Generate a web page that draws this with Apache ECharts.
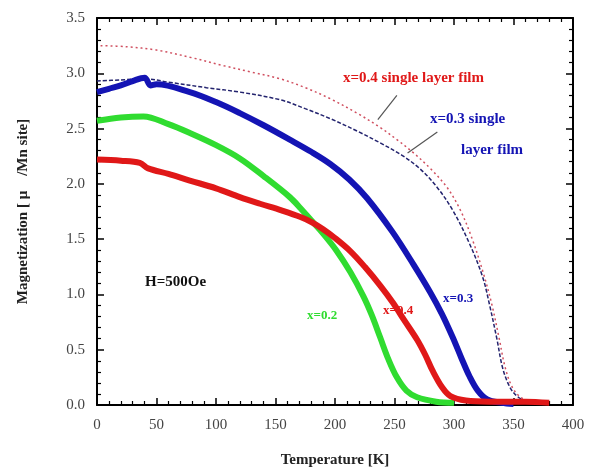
<!DOCTYPE html>
<html>
<head>
<meta charset="utf-8">
<script src="https://cdn.jsdelivr.net/npm/echarts@6/dist/echarts.min.js"></script>
<style>
  html, body { margin: 0; padding: 0; background: #fff; }
  #chart { width: 590px; height: 473px; }
</style>
</head>
<body>
<div id="chart"></div>
<script>
// --- Datos (T en K, M en μB/Mn) ---
const x02 = [[0,2.57],[20,2.60],[39,2.61],[60,2.54],[78,2.46],[100,2.35],[120,2.23],[140,2.07],[162,1.88],[171,1.78],[180,1.67],[190,1.55],[201,1.40],[213,1.20],[224,0.98],[231,0.81],[238,0.61],[245,0.41],[252,0.25],[260,0.13],[269,0.07],[285,0.03],[300,0.02]];
const x03 = [[0,2.83],[10,2.86],[20,2.89],[30,2.93],[40,2.96],[45,2.89],[50,2.90],[78,2.83],[100,2.74],[120,2.64],[140,2.53],[162,2.40],[180,2.29],[196,2.18],[212,2.04],[227,1.87],[248,1.57],[266,1.27],[280,1.02],[290,0.82],[299,0.61],[306,0.43],[313,0.26],[320,0.13],[328,0.05],[340,0.02],[350,0.01]];
const x04 = [[0,2.22],[20,2.21],[36,2.19],[43,2.14],[60,2.09],[78,2.03],[100,1.96],[120,1.88],[137,1.82],[155,1.76],[171,1.70],[181,1.65],[190,1.59],[200,1.51],[213,1.39],[225,1.25],[238,1.08],[249,0.92],[258,0.77],[269,0.59],[276,0.45],[282,0.31],[290,0.16],[297,0.08],[310,0.04],[330,0.03],[360,0.03],[380,0.02]];
const film04 = [[3,3.25],[25,3.24],[50,3.21],[80,3.14],[106,3.07],[130,3.01],[154,2.95],[175,2.87],[196,2.77],[220,2.63],[238,2.51],[252,2.40],[266,2.28],[280,2.14],[294,1.97],[305,1.77],[315,1.51],[325,1.18],[332,0.90],[338,0.60],[343,0.34],[349,0.16],[356,0.07],[365,0.03],[372,0.02]];
const film03 = [[0,2.93],[20,2.94],[40,2.95],[60,2.92],[92,2.87],[120,2.83],[154,2.76],[175,2.68],[196,2.59],[220,2.47],[238,2.37],[256,2.26],[271,2.14],[285,1.98],[299,1.76],[313,1.46],[324,1.16],[330,0.90],[336,0.60],[341,0.33],[347,0.16],[353,0.08],[360,0.04],[370,0.03]];
// Líneas indicadoras de las etiquetas "single layer film"
const pointer04 = [[252,2.80],[236,2.58]];
const pointer03 = [[286,2.47],[261,2.28]];

const serif = "'Liberation Serif', 'DejaVu Serif', serif";
const RED = '#e01818', BLUE = '#1414b4', GREEN = '#30dc30';

const chart = echarts.init(document.getElementById('chart'));

function frameAxis(pos, isX) {
  return {
    type: 'value', position: pos, min: 0, max: isX ? 400 : 3.5, interval: isX ? 50 : 0.5,
    axisLine: { show: true, onZero: false, lineStyle: { color: '#000', width: 2 } },
    axisTick: { show: true, inside: true, length: 7, lineStyle: { color: '#000', width: 1.5 } },
    minorTick: { show: true, splitNumber: 5, length: 4, lineStyle: { color: '#000', width: 1.2 } },
    splitLine: { show: false },
    axisLabel: { show: false }
  };
}

const xMain = frameAxis('bottom', true);
xMain.name = 'Temperature [K]';
xMain.nameLocation = 'middle';
xMain.nameGap = 48;
xMain.nameTextStyle = { fontFamily: serif, fontSize: 15, fontWeight: 'bold', color: '#222' };
xMain.axisLabel = { show: true, fontFamily: serif, fontSize: 15, color: '#444', margin: 13 };

const yMain = frameAxis('left', false);
yMain.name = 'Magnetization [ μ    /Mn site]';
yMain.nameLocation = 'middle';
yMain.nameGap = 66;
yMain.nameTextStyle = { fontFamily: serif, fontSize: 15, fontWeight: 'bold', color: '#222' };
yMain.axisLabel = { show: true, fontFamily: serif, fontSize: 15, color: '#444', margin: 12,
  formatter: v => v.toFixed(1) };

function thick(name, data, color) {
  return { name, type: 'line', data, showSymbol: false, smooth: 0.35,
    lineStyle: { color, width: 6 }, z: 3 };
}

chart.setOption({
  backgroundColor: '#fff',
  animation: false,
  grid: { left: 97, right: 17, top: 18, bottom: 68 },
  xAxis: [xMain, frameAxis('top', true)],
  yAxis: [yMain, frameAxis('right', false)],
  series: [
    { name: 'film04', type: 'line', data: film04, showSymbol: false, smooth: 0.35,
      lineStyle: { color: '#d05060', width: 1.5, type: [2, 3] }, z: 2 },
    { name: 'film03', type: 'line', data: film03, showSymbol: false, smooth: 0.35,
      lineStyle: { color: '#23236e', width: 1.5, type: [4, 2] }, z: 2 },
    thick('x=0.2', x02, GREEN),
    thick('x=0.3', x03, BLUE),
    thick('x=0.4', x04, RED),
    { name: 'pointers', type: 'line', data: [], silent: true,
      markLine: { symbol: ['none', 'none'], silent: true, label: { show: false },
        lineStyle: { color: '#555', width: 1.2, type: 'solid' },
        data: [
          [{ coord: pointer04[0] }, { coord: pointer04[1] }],
          [{ coord: pointer03[0] }, { coord: pointer03[1] }]
        ] } }
  ],
  graphic: [
    { type: 'text', left: 343, top: 71, style: { text: 'x=0.4 single layer film', fill: RED,
      font: 'bold 15px ' + serif } },
    { type: 'text', left: 430, top: 112, style: { text: 'x=0.3 single', fill: BLUE,
      font: 'bold 15px ' + serif } },
    { type: 'text', left: 461, top: 143, style: { text: 'layer film', fill: BLUE,
      font: 'bold 15px ' + serif } },
    { type: 'text', left: 145, top: 275, style: { text: 'H=500Oe', fill: '#111',
      font: 'bold 15px ' + serif } },
    { type: 'text', left: 307, top: 309, style: { text: 'x=0.2', fill: GREEN,
      font: 'bold 13px ' + serif } },
    { type: 'text', left: 383, top: 304, style: { text: 'x=0.4', fill: RED,
      font: 'bold 13px ' + serif } },
    { type: 'text', left: 443, top: 292, style: { text: 'x=0.3', fill: BLUE,
      font: 'bold 13px ' + serif } }
  ]
});
</script>
</body>
</html>
